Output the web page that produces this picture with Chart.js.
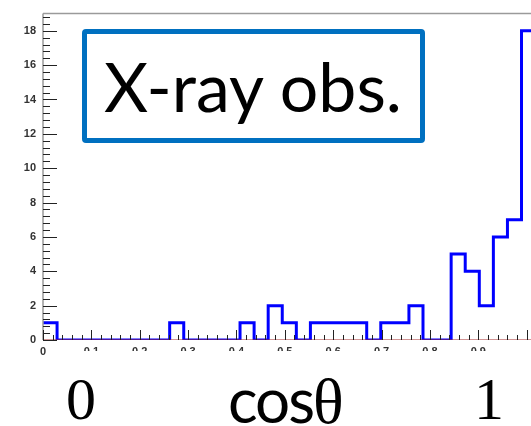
<!DOCTYPE html>
<html>
<head>
<meta charset="utf-8">
<script src="https://cdn.jsdelivr.net/npm/chart.js@4.4.1/dist/chart.umd.min.js"></script>
<style>
    body { margin: 0; background: #fff; }
    #wrap { position: relative; width: 531px; height: 426px; overflow: hidden; }
    #histChart { position: absolute; left: 0; top: 0; }
    .cover { position: absolute; left: 52px; top: 351px; width: 479px; height: 75px; background: #fff; }
    .obsBox {
        position: absolute; left: 82px; top: 29px; width: 343px; height: 114px;
        box-sizing: border-box; border: 5px solid #0070c0; border-radius: 4px;
    }
    .obsText {
        position: absolute; left: 104px; top: 52px; font-family: Lato, sans-serif;
        font-size: 68px; line-height: 68px; color: #000; white-space: nowrap;
    }
    .big { position: absolute; color: #000; white-space: nowrap; line-height: 60px; }
    .serif { font-family: "Liberation Serif", serif; }
</style>
</head>
<body>
<div id="wrap">
    <canvas id="histChart" width="531" height="426"></canvas>
    <div class="cover"></div>
    <div class="obsBox"></div>
    <div class="obsText">X-ray obs.</div>
    <div class="big serif" style="left:66px; top:369px; font-size:60px;">0</div>
    <div class="big" style="left:228px; top:369px; font-size:62px;"><span style="font-family:Lato,sans-serif; letter-spacing:-2px;">cos</span><span class="serif" style="font-size:64px;">θ</span></div>
    <div class="big serif" style="left:474px; top:369px; font-size:60px;">1</div>
</div>
<script>
// histogram of cos(theta), bins start at 0
const binWidth = 0.0291;
const counts = [1, 0, 0, 0, 0, 0, 0, 0, 0, 1, 0, 0, 0, 0, 1, 0, 2, 1, 0, 1,
                1, 1, 1, 0, 1, 1, 2, 0, 0, 5, 4, 2, 6, 7, 18];
const xTicks = [0, 0.1, 0.2, 0.3, 0.4, 0.5, 0.6, 0.7, 0.8, 0.9];
const yTicks = [0, 2, 4, 6, 8, 10, 12, 14, 16, 18];
const xMax = 1.009;
const yMax = 19;

const stepPoints = counts.map((c, i) => ({ x: i * binWidth, y: c }));
stepPoints.push({ x: counts.length * binWidth, y: counts[counts.length - 1] });

// ROOT style ticks drawn inside the frame
const insideTicks = {
    id: "insideTicks",
    afterDraw(chart) {
        const { ctx, chartArea: a, scales: { x, y } } = chart;
        ctx.save();
        ctx.strokeStyle = "#9a9a9a";
        ctx.lineWidth = 1.5;
        ctx.beginPath();
        ctx.moveTo(a.left, a.top);
        ctx.lineTo(a.right, a.top);
        ctx.moveTo(a.left, a.top);
        ctx.lineTo(a.left, a.bottom);
        ctx.stroke();

        ctx.strokeStyle = "#222";
        ctx.lineWidth = 1;
        ctx.beginPath();
        for (let i = 0; i * 0.4 <= yMax; i++) {
            const py = Math.round(y.getPixelForValue(i * 0.4)) + 0.5;
            ctx.moveTo(a.left, py);
            ctx.lineTo(a.left + (i % 5 === 0 ? 14 : 7), py);
        }
        for (let i = 0; i * 0.02 <= xMax; i++) {
            const px = Math.round(x.getPixelForValue(i * 0.02)) + 0.5;
            ctx.moveTo(px, a.bottom);
            ctx.lineTo(px, a.bottom - (i % 5 === 0 ? 10 : 5));
        }
        ctx.stroke();
        ctx.restore();
    }
};

new Chart(document.getElementById("histChart"), {
    type: "line",
    data: {
        datasets: [
            {
                data: [{ x: 0, y: 0 }, { x: xMax, y: 0 }],
                borderColor: "#a52a2a",
                borderWidth: 1,
                pointRadius: 0
            },
            {
                data: stepPoints,
                borderColor: "#0000ff",
                borderWidth: 3,
                stepped: true,
                pointRadius: 0,
                fill: false
            }
        ]
    },
    options: {
        responsive: false,
        animation: false,
        layout: { padding: { top: 5, left: 0, right: 0, bottom: 0 } },
        plugins: {
            legend: { display: false },
            tooltip: { enabled: false }
        },
        scales: {
            x: {
                type: "linear",
                min: 0,
                max: xMax,
                afterFit: (s) => { s.height = 86; },
                afterBuildTicks: (s) => { s.ticks = xTicks.map(v => ({ value: v })); },
                grid: { display: true, drawOnChartArea: false, drawTicks: false },
                border: { display: false },
                ticks: {
                    padding: 5,
                    color: "#333",
                    maxRotation: 0,
                    font: { family: "Liberation Sans", size: 11, weight: "bold" },
                    callback: (v) => String(v)
                }
            },
            y: {
                min: 0,
                max: yMax,
                afterFit: (s) => { s.width = 43; },
                afterBuildTicks: (s) => { s.ticks = yTicks.map(v => ({ value: v })); },
                grid: { display: true, drawOnChartArea: false, drawTicks: false },
                border: { display: false },
                ticks: {
                    padding: 7,
                    color: "#333",
                    font: { family: "Liberation Sans", size: 11, weight: "bold" }
                }
            }
        }
    },
    plugins: [insideTicks]
});
</script>
</body>
</html>
